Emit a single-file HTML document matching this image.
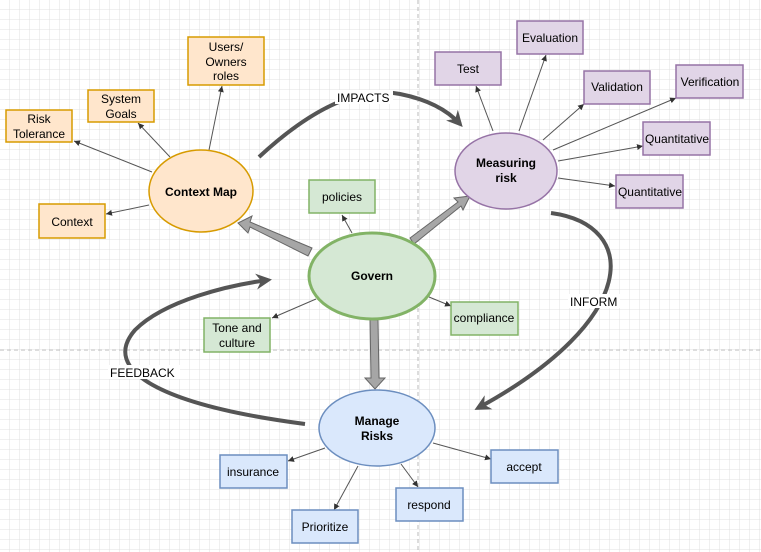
<!DOCTYPE html>
<html><head><meta charset="utf-8"><style>
html,body{margin:0;padding:0;background:#fff}
svg{display:block}
text{font-family:"Liberation Sans",sans-serif;font-size:12px;fill:#000}
.b{font-weight:bold}
</style></head><body>
<svg width="761" height="552" viewBox="0 0 761 552" xmlns="http://www.w3.org/2000/svg">
<defs>
<pattern id="g" width="10" height="10" patternUnits="userSpaceOnUse">
<path d="M10 0V10H0" fill="none" stroke="#e0e0e0" stroke-width="1"/>
</pattern>
<marker id="a" markerWidth="8" markerHeight="8" refX="6" refY="3" orient="auto" markerUnits="userSpaceOnUse"><path d="M0,0L6,3L0,6z" fill="#333"/></marker>
<marker id="t" markerWidth="24" markerHeight="24" refX="12" refY="8" orient="auto" markerUnits="userSpaceOnUse"><path d="M0,0L16,8L0,16L5,8z" fill="#555"/></marker>
</defs>
<rect width="761" height="552" fill="url(#g)"/>
<line x1="418" y1="0" x2="418" y2="552" stroke="#bbb" stroke-dasharray="4,3"/>
<line x1="0" y1="350" x2="761" y2="350" stroke="#bbb" stroke-dasharray="4,3"/>

<g stroke="#555" stroke-width="1" marker-end="url(#a)" fill="none">
<line x1="152" y1="172" x2="74" y2="141"/>
<line x1="170" y1="157" x2="138" y2="123"/>
<line x1="209" y1="150" x2="222" y2="86"/>
<line x1="149" y1="205" x2="106" y2="214"/>
<line x1="493" y1="131" x2="476" y2="86"/>
<line x1="519" y1="131" x2="546" y2="55"/>
<line x1="543" y1="140" x2="584" y2="104"/>
<line x1="553" y1="150" x2="676" y2="98"/>
<line x1="558" y1="161" x2="643" y2="146"/>
<line x1="558" y1="178" x2="615" y2="186"/>
<line x1="352" y1="233" x2="342" y2="215"/>
<line x1="316" y1="299" x2="272" y2="318"/>
<line x1="429" y1="297" x2="451" y2="306"/>
<line x1="325" y1="448" x2="288" y2="461"/>
<line x1="358" y1="466" x2="334" y2="510"/>
<line x1="401" y1="464" x2="418" y2="487"/>
<line x1="433" y1="443" x2="491" y2="459"/>
</g>

<g fill="#a6a6a6" stroke="#666" stroke-width="1">
<polygon points="312,248 250,222 252,216 238,223 248,233 250,227 308,256"/>
<polygon points="410,238 458,202 454,198 470,196 463,210 461,206 414,244"/>
<polygon points="370,320 378,320 379,378 385,378 375,389 365,378 371,378"/>
</g>

<g stroke="#555" stroke-width="4" fill="none" marker-end="url(#t)">
<path d="M259,157 Q340,82 400,94 Q440,102 460,124"/>
<path d="M551,213 C640,225 640,320 478,408"/>
<path d="M305,424 C160,405 100,370 135,330 C165,300 230,285 268,280"/>
</g>
<rect x="335" y="90" width="58" height="14" fill="#fff"/>
<text x="337" y="102">IMPACTS</text>
<rect x="568" y="294" width="52" height="14" fill="#fff"/>
<text x="570" y="306">INFORM</text>
<rect x="108" y="365" width="72" height="14" fill="#fff"/>
<text x="110" y="377">FEEDBACK</text>

<g fill="#ffe6cc" stroke="#d79b00" stroke-width="1.5">
<ellipse cx="201" cy="191" rx="52" ry="41"/>
<rect x="6" y="110" width="66" height="32"/>
<rect x="88" y="90" width="66" height="32"/>
<rect x="188" y="37" width="76" height="48"/>
<rect x="39" y="204" width="66" height="34"/>
</g>
<text x="201" y="196" text-anchor="middle" class="b">Context Map</text>
<text x="39" y="123" text-anchor="middle">Risk</text>
<text x="39" y="138" text-anchor="middle">Tolerance</text>
<text x="121" y="103" text-anchor="middle">System</text>
<text x="121" y="118" text-anchor="middle">Goals</text>
<text x="226" y="51" text-anchor="middle">Users/</text>
<text x="226" y="66" text-anchor="middle">Owners</text>
<text x="226" y="80" text-anchor="middle">roles</text>
<text x="72" y="226" text-anchor="middle">Context</text>

<g fill="#e1d5e7" stroke="#9673a6" stroke-width="1.5">
<ellipse cx="506" cy="171" rx="51" ry="38"/>
<rect x="435" y="52" width="66" height="33"/>
<rect x="517" y="21" width="66" height="33"/>
<rect x="584" y="71" width="66" height="33"/>
<rect x="676" y="65" width="67" height="33"/>
<rect x="643" y="122" width="67" height="33"/>
<rect x="616" y="175" width="67" height="33"/>
</g>
<text x="506" y="167" text-anchor="middle" class="b">Measuring</text>
<text x="506" y="182" text-anchor="middle" class="b">risk</text>
<text x="468" y="73" text-anchor="middle">Test</text>
<text x="550" y="42" text-anchor="middle">Evaluation</text>
<text x="617" y="91" text-anchor="middle">Validation</text>
<text x="710" y="86" text-anchor="middle">Verification</text>
<text x="677" y="143" text-anchor="middle">Quantitative</text>
<text x="650" y="196" text-anchor="middle">Quantitative</text>

<g fill="#d5e8d4" stroke="#82b366">
<ellipse cx="372" cy="276" rx="63" ry="43" stroke-width="3"/>
<rect x="309" y="180" width="66" height="33" stroke-width="1.5"/>
<rect x="204" y="318" width="66" height="34" stroke-width="1.5"/>
<rect x="451" y="302" width="67" height="33" stroke-width="1.5"/>
</g>
<text x="372" y="280" text-anchor="middle" class="b">Govern</text>
<text x="342" y="201" text-anchor="middle">policies</text>
<text x="237" y="332" text-anchor="middle">Tone and</text>
<text x="237" y="347" text-anchor="middle">culture</text>
<text x="484" y="322" text-anchor="middle">compliance</text>

<g fill="#dae8fc" stroke="#6c8ebf" stroke-width="1.5">
<ellipse cx="377" cy="428" rx="58" ry="38"/>
<rect x="220" y="455" width="67" height="33"/>
<rect x="292" y="510" width="66" height="33"/>
<rect x="396" y="488" width="67" height="33"/>
<rect x="491" y="450" width="67" height="33"/>
</g>
<text x="377" y="425" text-anchor="middle" class="b">Manage</text>
<text x="377" y="440" text-anchor="middle" class="b">Risks</text>
<text x="253" y="476" text-anchor="middle">insurance</text>
<text x="325" y="531" text-anchor="middle">Prioritize</text>
<text x="429" y="509" text-anchor="middle">respond</text>
<text x="524" y="471" text-anchor="middle">accept</text>
</svg>
</body></html>
